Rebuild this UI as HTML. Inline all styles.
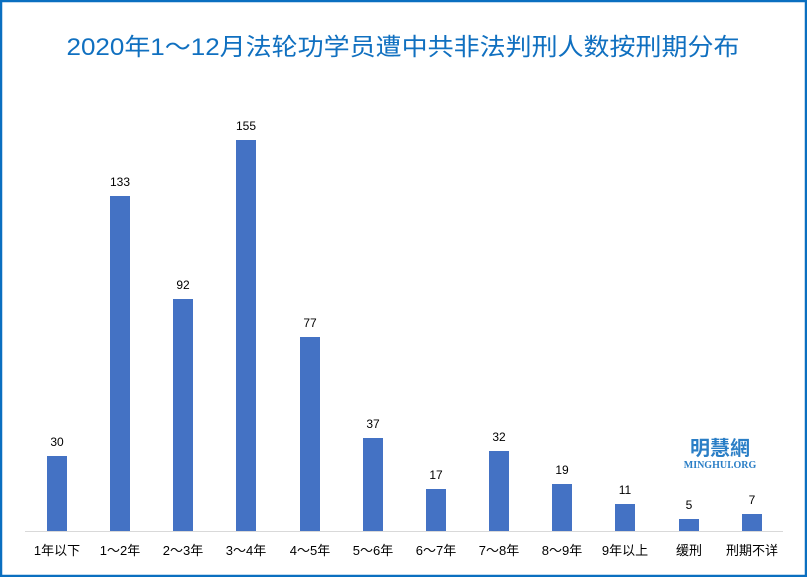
<!DOCTYPE html>
<html><head><meta charset="utf-8"><style>
html,body{margin:0;padding:0;background:#fff}
svg{display:block}
text{font-family:"Liberation Sans","Noto Sans CJK SC",sans-serif}
</style></head><body>
<svg width="807" height="577" xmlns="http://www.w3.org/2000/svg">
<rect x="1" y="1" width="805" height="575" fill="#fff" stroke="#0a6fc0" stroke-width="2.5"/>
<text x="403" y="55" text-anchor="middle" font-size="24" fill="#1070c0" textLength="673" lengthAdjust="spacingAndGlyphs">2020年1～12月法轮功学员遭中共非法判刑人数按刑期分布</text>
<line x1="25" y1="531.5" x2="783" y2="531.5" stroke="#d9d9d9" stroke-width="1"/>
<g fill="#4472c4">
<rect x="47" y="456" width="20" height="75"/>
<rect x="110" y="196" width="20" height="335"/>
<rect x="173" y="299" width="20" height="232"/>
<rect x="236" y="140" width="20" height="391"/>
<rect x="300" y="337" width="20" height="194"/>
<rect x="363" y="438" width="20" height="93"/>
<rect x="426" y="489" width="20" height="42"/>
<rect x="489" y="451" width="20" height="80"/>
<rect x="552" y="484" width="20" height="47"/>
<rect x="615" y="504" width="20" height="27"/>
<rect x="679" y="519" width="20" height="12"/>
<rect x="742" y="514" width="20" height="17"/>
</g>
<g font-size="12" fill="#000" text-anchor="middle">
<text x="57" y="446">30</text>
<text x="120" y="186">133</text>
<text x="183" y="289">92</text>
<text x="246" y="130">155</text>
<text x="310" y="327">77</text>
<text x="373" y="428">37</text>
<text x="436" y="479">17</text>
<text x="499" y="441">32</text>
<text x="562" y="474">19</text>
<text x="625" y="494">11</text>
<text x="689" y="509">5</text>
<text x="752" y="504">7</text>
</g>
<g font-size="13" fill="#000" text-anchor="middle">
<text x="57" y="555">1年以下</text>
<text x="120" y="555">1～2年</text>
<text x="183" y="555">2～3年</text>
<text x="246" y="555">3～4年</text>
<text x="310" y="555">4～5年</text>
<text x="373" y="555">5～6年</text>
<text x="436" y="555">6～7年</text>
<text x="499" y="555">7～8年</text>
<text x="562" y="555">8～9年</text>
<text x="625" y="555">9年以上</text>
<text x="689" y="555">缓刑</text>
<text x="752" y="555">刑期不详</text>
</g>
<text x="720" y="455" text-anchor="middle" font-size="20" font-weight="bold" fill="#2a7ec6" style="font-family:'Noto Sans CJK TC',sans-serif">明慧網</text>
<text x="720" y="468" text-anchor="middle" font-size="10" font-weight="bold" fill="#2a7ec6" style="font-family:'Liberation Serif',serif">MINGHUI.ORG</text>
</svg>
</body></html>
